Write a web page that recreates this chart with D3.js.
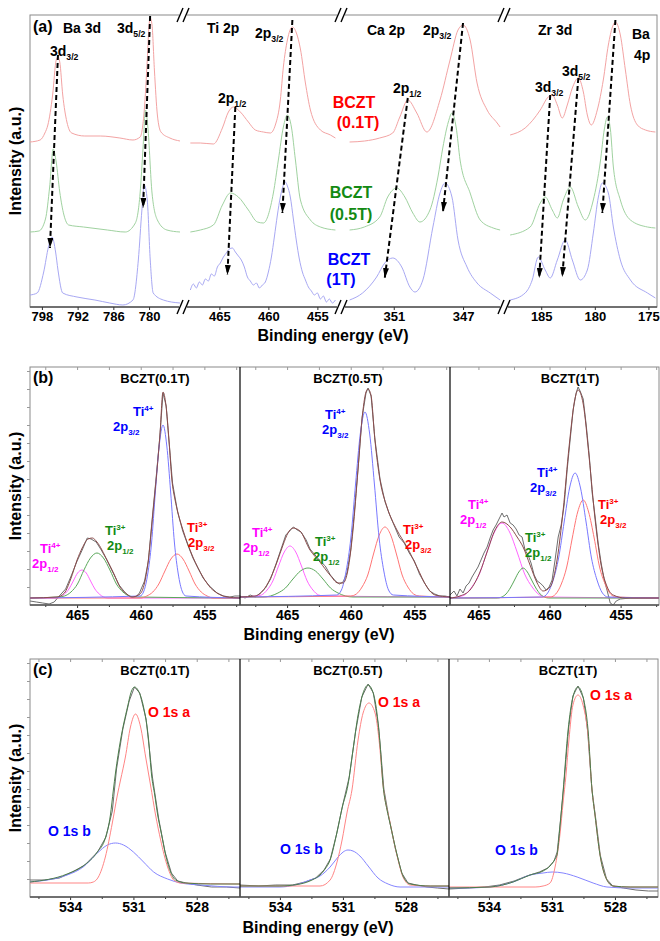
<!DOCTYPE html>
<html>
<head>
<meta charset="utf-8">
<script src="https://d3js.org/d3.v7.min.js"></script>
<style>
  body { margin: 0; background: #fff; }
  svg text { font-family: Arial, "Liberation Sans", Helvetica, sans-serif; font-weight: bold; }
</style>
</head>
<body>
<svg id="chart" width="660" height="941"></svg>
<script>
// ---------------- data : panel (a), survey of core levels (x = binding energy eV, y = a.u.)
const segDomains = [[800, 774.8], [468.2, 453.1], [353.7, 344.75], [188.1, 174.2]];
const segTicks = [[798, 792, 786, 780], [465, 460, 455], [351, 347], [185, 180, 175]];
const sampleNames = ["BCZT", "BCZT", "BCZT"];
const sampleTags = ["(0.1T)", "(0.5T)", "(1T)"];

const spec01 = [
  [[800.0,165],[798.3,167],[797.5,174],[797.0,182],[796.2,212],[795.6,247],[795.3,250],[795.0,245],[794.5,212],[793.8,185],[793.0,174],[790.8,171],[788.2,171],[784.9,169],[782.7,167],[781.5,170],[780.8,197],[780.3,247],[780.0,282],[779.8,289],[779.5,282],[779.1,237],[778.6,192],[778.0,175],[776.5,169],[774.8,166]],
  [[467.96,164],[466.94,164],[465.61,163],[464.69,179],[464.08,195],[463.57,200],[462.86,195],[462.04,185],[461.33,177],[460.51,175],[459.8,174],[459.29,182],[458.78,207],[458.47,240],[458.06,267],[457.55,280],[457.14,274],[456.73,258],[456.22,224],[455.71,197],[454.69,177],[453.67,172],[453.16,169]],
  [[353.55,165],[352.68,166],[351.81,169],[351.06,174],[350.65,190],[350.19,207],[349.67,194],[349.09,175],[348.33,207],[347.75,247],[347.29,277],[347.0,282],[346.59,267],[346.19,224],[345.61,197],[345.03,184],[344.86,180]],
  [[187.9,172],[186.5,179],[185.09,197],[184.35,210],[183.97,212],[183.5,202],[183.04,189],[182.57,202],[182.1,219],[181.54,229],[181.07,215],[180.7,192],[180.33,182],[179.77,197],[179.21,227],[178.74,262],[178.36,280],[178.08,285],[177.62,272],[177.15,237],[176.68,202],[176.03,182],[175.28,177],[174.35,175]]
];
const spec05 = [
  [[800.0,75],[798.5,76],[797.4,88],[796.7,120],[796.1,158],[795.6,145],[795.0,115],[794.3,92],[793.5,82],[791.0,80],[787.0,77],[784.0,75],[782.3,84],[781.5,114],[781.0,160],[780.6,197],[780.2,180],[779.5,114],[778.6,87],[777.0,77],[774.8,75]],
  [[467.96,75],[466.94,77],[465.61,82],[464.69,102],[463.88,114],[463.06,110],[462.04,97],[461.12,85],[460.51,84],[459.49,114],[458.98,147],[458.47,180],[458.06,192],[457.65,180],[457.24,147],[456.73,107],[455.71,87],[454.69,80],[453.16,77]],
  [[353.55,77],[352.7,80],[351.81,90],[351.35,110],[350.83,119],[350.36,110],[349.9,94],[349.49,85],[348.91,97],[348.45,130],[348.16,160],[347.85,185],[347.64,194],[347.4,180],[347.17,147],[346.59,114],[346.01,87],[345.26,79],[344.86,77]],
  [[187.9,72],[186.03,80],[185.09,104],[184.63,110],[183.97,97],[183.5,89],[182.94,107],[182.29,120],[181.54,100],[180.89,87],[180.14,107],[179.49,145],[179.11,178],[178.83,190],[178.55,178],[178.27,140],[177.62,107],[176.68,87],[175.09,80],[174.35,79]]
];
const spec1 = [
  [[800.0,12],[798.8,14],[797.7,35],[796.9,60],[796.3,70],[795.7,55],[795.3,37],[794.5,14],[792.1,10],[789.1,7],[786.6,4],[784.4,2],[782.7,7],[781.8,47],[781.2,97],[780.8,122],[780.3,107],[779.8,47],[779.3,14],[777.6,7],[774.8,4]],
  [[467.96,17],[467.65,23],[467.35,19],[467.04,25],[466.73,22],[466.43,28],[466.12,26],[465.82,33],[465.51,31],[465.2,40],[464.9,44],[464.59,50],[464.29,54],[463.98,58],[463.67,59],[463.37,55],[463.06,51],[462.76,47],[462.45,40],[462.14,30],[461.84,26],[461.53,22],[461.22,24],[460.92,19],[460.61,22],[460.31,25],[460.0,35],[459.69,50],[459.39,70],[459.08,92],[458.78,110],[458.47,122],[458.27,125],[458.06,121],[457.76,110],[457.45,88],[457.14,66],[456.84,48],[456.53,35],[456.22,27],[455.92,20],[455.61,16],[455.31,12],[455.0,14],[454.69,8],[454.39,11],[454.08,5],[453.78,8],[453.47,4],[453.16,7]],
  [[353.55,7],[352.8,14],[351.99,30],[351.52,44],[351.06,49],[350.54,40],[350.07,20],[349.78,15],[349.32,27],[348.74,80],[348.33,114],[348.04,124],[347.64,110],[347.29,67],[346.77,40],[346.19,24],[345.43,14],[344.86,7]],
  [[187.9,7],[186.5,14],[185.84,27],[185.28,50],[184.63,37],[184.16,29],[183.5,47],[182.76,67],[182.1,47],[181.36,27],[180.7,37],[180.14,74],[179.67,110],[179.3,124],[178.74,114],[178.27,80],[177.62,47],[176.68,27],[175.09,14],[174.35,9]]
];
// peak shift arrows: [segment, E from, I from, E to, I to]
const shiftArrows = [
  [0, 795.3, 252, 796.65, 59], [0, 779.82, 291, 781.0, 99],
  [1, 463.37, 200, 464.18, 32], [1, 457.55, 287, 458.57, 94],
  [2, 350.19, 209, 351.52, 29], [2, 347.0, 284, 348.16, 95],
  [3, 184.16, 212, 185.19, 29], [3, 181.54, 229, 183.04, 30], [3, 178.08, 287, 179.3, 94]
];

// ---------------- data : panel (b), Ti 2p fits
const bDomains = [[468.7, 452.2], [468.7, 452.2], [467.0, 452.3]];
const bMajor = [465, 460, 455];
const bMinor = [467.5, 462.5, 457.5, 452.5];
const bTitles = ["BCZT(0.1T)", "BCZT(0.5T)", "BCZT(1T)"];

const b1Raw = [[468.7,4],[468.2,3],[467.7,2],[467.2,1],[466.8,3],[466.4,9],[465.9,16],[465.5,28],[465.0,44],[464.6,55],[464.2,67],[463.9,66],[463.5,63],[463.1,55],[462.7,46],[462.2,33],[461.7,20],[461.2,12],[460.8,8],[460.4,8],[460.1,12],[459.7,24],[459.4,44],[459.1,86],[458.8,126],[458.5,168],[458.25,212],[458.0,199],[457.8,167],[457.5,122],[457.1,93],[456.7,74],[456.3,60],[455.9,47],[455.5,37],[455.1,27],[454.6,19],[454.0,12],[453.5,9],[453.0,8],[452.6,9],[452.2,9]];
const b1Fit = [[468.7,7],[466.58,8],[466.0,12],[465.5,26],[465.0,45],[464.6,57],[464.14,66],[463.8,67],[463.44,63],[462.65,45],[462.1,31],[461.63,18],[461.1,11],[460.69,8],[460.06,11],[459.7,22],[459.43,42],[459.04,92],[458.72,135],[458.49,170],[458.25,213],[458.02,200],[457.78,165],[457.55,125],[457.3,105],[457.07,92],[456.68,75],[455.9,48],[455.11,28],[454.5,17],[454.01,12],[453.2,8],[452.2,7]];
const b1Ti4p32 = [[468.7,7],[460.05,9],[459.75,14],[459.45,31],[459.15,62],[458.85,113],[458.55,159],[458.25,180],[457.95,159],[457.65,113],[457.35,62],[457.05,31],[456.75,14],[456.45,9],[452.2,7]];
const b1Ti3p32 = [[468.7,7],[460.0,7],[459.53,9],[459.05,13],[458.58,21],[458.1,34],[457.63,46],[457.15,51],[456.68,46],[456.2,34],[455.73,21],[455.25,13],[454.78,9],[454.3,7],[452.2,7]];
const b1Ti4p12 = [[468.7,7],[466.66,7],[466.32,8],[465.98,11],[465.64,16],[465.3,24],[464.96,32],[464.62,35],[464.28,32],[463.94,24],[463.6,16],[463.26,11],[462.92,8],[462.58,7],[452.2,7]];
const b1Ti3p12 = [[468.7,7],[466.5,8],[465.99,9],[465.48,13],[464.97,21],[464.46,35],[463.95,47],[463.44,52],[462.93,47],[462.42,35],[461.91,21],[461.4,13],[460.89,9],[460.38,8],[452.2,7]];

const b2Raw = [[468.7,9],[468.3,7],[467.9,10],[467.5,8],[467.1,12],[466.7,17],[466.3,26],[465.9,40],[465.5,55],[465.1,70],[464.8,74],[464.5,78],[464.2,75],[463.9,73],[463.5,65],[463.2,56],[462.8,50],[462.4,44],[462.0,39],[461.6,30],[461.2,24],[460.9,21],[460.6,23],[460.3,32],[460.0,55],[459.7,95],[459.4,140],[459.1,188],[458.8,212],[458.64,217],[458.4,209],[458.1,166],[457.7,126],[457.3,103],[457.0,92],[456.6,80],[456.2,68],[455.8,62],[455.4,52],[455.0,44],[454.6,31],[454.2,22],[453.8,14],[453.4,11],[453.0,9],[452.6,9],[452.2,8]];
const b2Fit = [[468.7,8],[467.52,9],[466.74,17],[466.19,30],[465.79,43],[465.32,60],[464.93,72],[464.54,77],[463.99,74],[463.2,55],[462.42,43],[461.63,30],[461.0,22],[460.61,22],[460.22,35],[459.82,75],[459.43,135],[459.12,185],[458.8,213],[458.64,216],[458.41,210],[458.1,165],[457.7,125],[457.15,98],[456.37,75],[455.58,58],[454.8,38],[454.01,18],[453.38,10],[452.2,8]];
const b2Ti4p32 = [[468.7,8],[461.1,10],[460.73,15],[460.36,34],[459.99,67],[459.62,121],[459.25,171],[458.88,193],[458.51,171],[458.14,121],[457.77,67],[457.4,34],[457.03,15],[456.66,10],[452.2,8]];
const b2Ti3p32 = [[468.7,8],[460.01,9],[459.56,11],[459.11,18],[458.66,30],[458.21,51],[457.76,70],[457.31,78],[456.86,70],[456.41,51],[455.96,30],[455.51,18],[455.06,11],[454.61,9],[452.2,8]];
const b2Ti4p12 = [[468.7,8],[467.47,9],[467.02,10],[466.57,15],[466.12,24],[465.67,39],[465.22,53],[464.77,59],[464.32,53],[463.87,39],[463.42,24],[462.97,15],[462.52,10],[462.07,9],[452.2,8]];
const b2Ti3p12 = [[468.7,8],[466.9,8],[466.31,9],[465.72,12],[465.13,17],[464.54,26],[463.95,34],[463.36,37],[462.77,34],[462.18,26],[461.59,17],[461.0,12],[460.41,9],[459.82,8],[452.2,8]];

const b3Raw = [[467.0,10],[466.72,14],[466.51,9],[466.3,16],[466.08,12],[465.87,19],[465.66,22],[465.45,28],[465.24,33],[465.03,38],[464.82,45],[464.61,52],[464.39,58],[464.18,67],[463.97,75],[463.76,80],[463.55,86],[463.34,92],[463.2,88],[462.99,90],[462.77,82],[462.56,80],[462.35,76],[462.14,70],[461.93,68],[461.72,55],[461.51,50],[461.3,42],[461.08,30],[460.87,24],[460.66,22],[460.45,19],[460.24,15],[460.03,18],[459.82,25],[459.61,45],[459.39,68],[459.18,80],[458.97,100],[458.76,135],[458.55,165],[458.34,195],[458.13,212],[457.99,218],[457.85,214],[457.63,206],[457.42,180],[457.21,150],[457.0,112],[456.79,88],[456.58,62],[456.37,42],[456.15,25],[455.94,14],[455.73,2],[455.52,0],[455.31,4],[455.03,6],[454.32,7],[452.3,7]];
const b3Fit = [[467.0,7],[466.3,9],[465.59,15],[464.89,33],[464.39,53],[463.83,75],[463.34,83],[462.77,78],[462.28,68],[461.86,58],[461.37,40],[460.87,22],[460.45,14],[459.96,18],[459.46,46],[459.04,95],[458.62,159],[458.2,207],[457.99,215],[457.63,201],[457.21,147],[456.79,85],[456.37,40],[455.94,18],[455.52,10],[454.68,7],[452.3,7]];
const b3Ti4p32 = [[467.0,7],[460.51,8],[460.13,12],[459.74,25],[459.36,47],[458.97,83],[458.59,117],[458.2,132],[457.82,117],[457.43,83],[457.05,47],[456.66,25],[456.28,12],[455.89,8],[452.3,7]];
const b3Ti3p32 = [[467.0,7],[459.94,8],[459.56,11],[459.17,21],[458.79,38],[458.4,67],[458.02,93],[457.63,105],[457.25,93],[456.86,67],[456.48,38],[456.09,21],[455.71,11],[455.32,8],[452.3,7]];
const b3Ti4p12 = [[467.0,7],[466.52,8],[465.99,10],[465.46,18],[464.93,31],[464.4,53],[463.87,73],[463.34,82],[462.81,73],[462.28,53],[461.75,31],[461.22,18],[460.69,10],[460.16,8],[452.3,7]];
const b3Ti3p12 = [[467.0,7],[463.66,7],[463.36,8],[463.06,11],[462.76,17],[462.46,25],[462.16,33],[461.86,37],[461.56,33],[461.26,25],[460.96,17],[460.66,11],[460.36,8],[460.06,7],[452.3,7]];

// ---------------- data : panel (c), O 1s fits
const cDomain = [535.9, 525.95];
const cMajor = [534, 531, 528];
const cMinor = [535.5, 532.5, 529.5, 526.5];

const c1Raw = [[535.9,17],[535.2,17],[534.5,19],[533.9,25],[533.3,32],[532.7,45],[532.3,60],[532.0,86],[531.8,128],[531.5,168],[531.2,196],[530.95,210],[530.7,204],[530.4,178],[530.1,120],[529.8,78],[529.5,45],[529.2,24],[528.9,16],[528.5,14],[528.0,12],[527.3,10],[526.6,10],[525.95,9]];
const c1Fit = [[535.9,15],[534.14,23],[533.38,31],[532.71,45],[532.33,59],[532.09,82],[531.95,107],[531.85,124],[531.61,157],[531.28,190],[531.09,206],[530.95,210],[530.76,206],[530.52,190],[530.28,157],[530.14,122],[529.99,102],[529.85,82],[529.71,67],[529.38,34],[529.0,17],[528.52,14],[527.33,13],[525.95,13]];
const c1A = [[535.9,14],[533.14,14],[532.9,15],[532.66,20],[532.33,40],[532.0,74],[531.76,102],[531.61,117],[531.38,140],[531.14,170],[530.9,183],[530.66,170],[530.42,140],[530.19,112],[529.95,82],[529.71,57],[529.38,30],[529.09,17],[528.76,14],[525.95,13]];
const c1B = [[535.9,15],[534.14,22],[533.38,30],[532.71,44],[532.23,52],[531.85,54],[531.47,52],[531.0,45],[530.52,35],[530.04,25],[529.38,18],[528.76,14],[527.81,12],[526.23,10],[525.95,10]];

const c2Raw = [[535.9,12],[535.0,11],[534.2,12],[533.4,12],[532.8,15],[532.3,19],[531.9,27],[531.6,38],[531.3,63],[531.0,93],[530.7,120],[530.4,165],[530.1,200],[529.8,213],[529.55,204],[529.3,170],[529.05,108],[528.8,78],[528.5,48],[528.2,24],[527.9,14],[527.5,12],[527.0,10],[526.5,9],[525.95,8]];
const c2Fit = [[535.9,11],[534.0,11],[533.04,13],[532.47,17],[532.09,22],[531.85,28],[531.61,37],[531.28,65],[531.04,89],[530.76,112],[530.52,147],[530.28,182],[530.04,204],[529.8,212],[529.61,207],[529.38,184],[529.23,152],[529.09,112],[528.9,87],[528.76,74],[528.42,42],[528.14,21],[527.8,13],[526.85,11],[525.95,11]];
const c2A = [[535.9,11],[532.09,11],[531.61,17],[531.28,35],[531.04,57],[530.8,85],[530.57,107],[530.28,157],[530.04,184],[529.76,194],[529.47,184],[529.28,157],[529.09,112],[528.76,75],[528.42,41],[528.14,20],[527.8,12],[526.85,11],[525.95,11]];
const c2B = [[535.9,10],[534.0,10],[533.28,12],[532.57,17],[532.09,21],[531.61,30],[531.23,40],[530.99,45],[530.76,47],[530.52,46],[530.19,41],[529.8,31],[529.33,19],[528.85,13],[528.28,10],[525.95,10]];

const c3Raw = [[535.9,8],[535.0,9],[534.2,10],[533.5,12],[532.8,16],[532.2,21],[531.6,25],[531.2,29],[530.9,36],[530.75,45],[530.6,75],[530.45,108],[530.2,170],[530.0,201],[529.76,211],[529.5,199],[529.3,166],[529.1,108],[528.9,76],[528.7,42],[528.4,18],[528.1,11],[527.6,9],[527.0,7],[526.4,6],[525.95,6]];
const c3Fit = [[535.9,9],[533.95,10],[532.85,15],[532.04,22],[531.42,26],[531.09,31],[530.85,38],[530.76,42],[530.61,72],[530.47,105],[530.23,167],[530.0,200],[529.76,210],[529.52,200],[529.28,167],[529.09,107],[528.95,82],[528.71,42],[528.38,17],[528.09,11],[527.28,10],[525.95,10]];
const c3A = [[535.9,10],[531.8,10],[531.42,11],[531.09,14],[530.85,30],[530.61,64],[530.47,94],[530.33,122],[530.19,157],[530.0,192],[529.76,202],[529.52,192],[529.28,162],[529.09,107],[528.95,82],[528.71,42],[528.38,17],[528.09,11],[527.28,10],[525.95,10]];
const c3B = [[535.9,9],[535.23,9],[533.95,10],[532.85,15],[532.04,22],[531.42,24],[530.99,25],[530.47,24],[529.8,20],[529.04,14],[528.38,10],[527.28,9],[525.95,9]];

// ---------------- drawing
const svg = d3.select("#chart");
const defs = svg.append("defs");

defs.append("marker")
    .attr("id", "head")
    .attr("viewBox", "0 0 10 6")
    .attr("refX", 10).attr("refY", 3)
    .attr("markerWidth", 10).attr("markerHeight", 6)
    .attr("markerUnits", "userSpaceOnUse")
    .attr("orient", "auto")
  .append("path")
    .attr("d", "M0,0L10,3L0,6Z")
    .attr("fill", "#000");

// text with sub / superscripts; parts = [[text, "sub"|"sup"|undefined], ...]
function rich(x, y, parts, color, size, anchor) {
    let t = svg.append("text")
        .attr("x", x).attr("y", y)
        .attr("fill", color)
        .attr("text-anchor", anchor || "start")
        .style("font-size", size + "px");
    let cur = 0;
    parts.forEach(p => {
        let off = p[1] === "sub" ? size * 0.32 : p[1] === "sup" ? -size * 0.42 : 0;
        t.append("tspan")
            .attr("dy", off - cur)
            .style("font-size", p[1] ? (size * 0.62) + "px" : null)
            .text(p[0]);
        cur = off;
    });
    return t;
}

function yLabel(cy) {
    svg.append("text")
        .attr("transform", `translate(21, ${cy}) rotate(-90)`)
        .attr("text-anchor", "middle")
        .style("font-size", "16px")
        .text("Intensity (a.u.)");
}

function xLabel(cx, y) {
    svg.append("text")
        .attr("x", cx).attr("y", y)
        .attr("text-anchor", "middle")
        .style("font-size", "16px")
        .text("Binding energy (eV)");
}

function bottomTicks(scale, y, major, minor, fs) {
    let dom = scale.domain();
    let lo = Math.min(dom[0], dom[1]), hi = Math.max(dom[0], dom[1]);
    let g = svg.append("g").attr("transform", `translate(0,${y})`).attr("color", "#333");
    g.call(d3.axisBottom(scale).tickValues(major).tickSize(3).tickSizeOuter(0).tickPadding(2).tickFormat(d3.format("d")))
        .call(a => a.select(".domain").remove());
    g.selectAll("text").style("font-size", fs + "px").attr("fill", "#000");
    if (minor) {
        svg.append("g").attr("transform", `translate(0,${y})`).attr("color", "#333")
            .call(d3.axisBottom(scale).tickValues(minor.filter(v => v > lo && v < hi)).tickSize(2).tickSizeOuter(0).tickFormat(""))
            .call(a => a.select(".domain").remove());
    }
}

function topTicks(scale, y, vals) {
    let dom = scale.domain();
    let lo = Math.min(dom[0], dom[1]), hi = Math.max(dom[0], dom[1]);
    svg.append("g").attr("transform", `translate(0,${y})`).attr("color", "#999")
        .call(d3.axisTop(scale).tickValues(vals.filter(v => v > lo && v < hi)).tickSize(-3).tickSizeOuter(0).tickFormat(""))
        .call(a => a.select(".domain").remove());
}

// ===== panel (a)
const aRanges = [[30, 180], [188, 336], [347, 502], [508, 657]];
const aBreaks = [184, 342, 505];
const xa = segDomains.map((d, i) => d3.scaleLinear().domain(d).range(aRanges[i]));
const ya = d3.scaleLinear().domain([0, 292]).range([307, 15]);

svg.append("rect")
    .attr("x", 30).attr("y", 15).attr("width", 627).attr("height", 292)
    .attr("fill", "none").attr("stroke", "#8a8a8a");
svg.append("line")
    .attr("x1", 30).attr("x2", 657).attr("y1", 307).attr("y2", 307)
    .attr("stroke", "#555").attr("stroke-width", 1.3);

[[spec01, "#f3a3a3"], [spec05, "#a0d2a0"], [spec1, "#a8a8f3"]].forEach(([spec, col]) => {
    spec.forEach((pts, i) => {
        let line = d3.line().x(d => xa[i](d[0])).y(d => ya(d[1])).curve(d3.curveMonotoneX);
        svg.append("path").datum(pts)
            .attr("fill", "none").attr("stroke", col).attr("stroke-width", 1)
            .attr("d", line);
    });
});

shiftArrows.forEach(a => {
    let s = xa[a[0]];
    svg.append("line")
        .attr("x1", s(a[1])).attr("y1", ya(a[2]))
        .attr("x2", s(a[3])).attr("y2", ya(a[4]))
        .attr("stroke", "#000").attr("stroke-width", 2)
        .attr("stroke-dasharray", "5,3")
        .attr("marker-end", "url(#head)");
});

// axis breaks "//"
aBreaks.forEach(bx => {
    [15, 307].forEach(by => {
        svg.append("rect").attr("x", bx - 5).attr("y", by - 2).attr("width", 8).attr("height", 4).attr("fill", "#fff");
        [-7, -1].forEach(o => {
            svg.append("line")
                .attr("x1", bx + o).attr("y1", by + 7)
                .attr("x2", bx + o + 6).attr("y2", by - 7)
                .attr("stroke", "#000").attr("stroke-width", 1.4);
        });
    });
});

segTicks.forEach((tv, i) => bottomTicks(xa[i], 307, tv, null, 13));

rich(33, 32, [["(a)"]], "#000", 16);
rich(63, 33, [["Ba 3d"]], "#000", 14);
rich(117, 33, [["3d"], ["5/2", "sub"]], "#000", 14);
rich(50, 56, [["3d"], ["3/2", "sub"]], "#000", 14);
rich(207, 33, [["Ti 2p"]], "#000", 14);
rich(255, 38, [["2p"], ["3/2", "sub"]], "#000", 14);
rich(218, 103, [["2p"], ["1/2", "sub"]], "#000", 14);
rich(367, 35, [["Ca 2p"]], "#000", 14);
rich(423, 35, [["2p"], ["3/2", "sub"]], "#000", 14);
rich(393, 93, [["2p"], ["1/2", "sub"]], "#000", 14);
rich(538, 35, [["Zr 3d"]], "#000", 14);
rich(562, 76, [["3d"], ["5/2", "sub"]], "#000", 14);
rich(535, 92, [["3d"], ["3/2", "sub"]], "#000", 14);
rich(632, 39, [["Ba"]], "#000", 14);
rich(634, 60, [["4p"]], "#000", 14);

const sampleColors = ["#ff0000", "#138a13", "#0000ff"];
const sampleLabelPos = [[354, 108, 358, 128], [351, 198, 351, 220], [349, 265, 341, 285]];
sampleLabelPos.forEach((p, i) => {
    rich(p[0], p[1], [[sampleNames[i]]], sampleColors[i], 16, "middle");
    rich(p[2], p[3], [[sampleTags[i]]], sampleColors[i], 16, "middle");
});

yLabel(161);
xLabel(333, 341);

// ===== panels (b) and (c) : three fitted sub-panels each
function fitPanel(top, bottom, ranges, domains, major, minor, series, id) {
    let yb = d3.scaleLinear().domain([0, bottom - top]).range([bottom, top]);
    let right = ranges[2][1];
    svg.append("rect")
        .attr("x", 30).attr("y", top).attr("width", right - 30).attr("height", bottom - top)
        .attr("fill", "none").attr("stroke", "#8a8a8a");
    svg.append("g").attr("transform", "translate(30,0)").attr("color", "#999")
        .call(d3.axisLeft(yb).tickValues(d3.range(18, bottom - top, 18)).tickSize(3).tickFormat(""))
        .call(a => a.select(".domain").remove());
    ranges.forEach((r, i) => {
        let xs = d3.scaleLinear().domain(domains[i]).range(r);
        defs.append("clipPath").attr("id", id + i)
            .append("rect").attr("x", r[0]).attr("y", top).attr("width", r[1] - r[0]).attr("height", bottom - top);
        let g = svg.append("g").attr("clip-path", `url(#${id + i})`);
        series[i].forEach(s => {
            let line = d3.line().x(d => xs(d[0])).y(d => yb(d[1]))
                .curve(s.raw ? d3.curveLinear : d3.curveMonotoneX);
            g.append("path").datum(s.pts)
                .attr("fill", "none").attr("stroke", s.color).attr("stroke-width", 1)
                .attr("d", line);
        });
        bottomTicks(xs, bottom, major, minor, 14);
        topTicks(xs, top, major.concat(minor));
        if (i > 0) {
            svg.append("line").attr("x1", r[0]).attr("x2", r[0]).attr("y1", top).attr("y2", bottom)
                .attr("stroke", "#000").attr("stroke-width", 1.2);
        }
    });
    svg.append("line").attr("x1", 30).attr("x2", right).attr("y1", bottom).attr("y2", bottom)
        .attr("stroke", "#555").attr("stroke-width", 1.3);
}

const rawCol = "#6e6e6e";
fitPanel(367, 605, [[30, 240], [240, 450], [450, 659]], bDomains, bMajor, bMinor, [
    [{pts: b1Raw, color: rawCol, raw: true}, {pts: b1Ti4p12, color: "#ff66ff"}, {pts: b1Ti3p12, color: "#5aa85a"},
     {pts: b1Ti3p32, color: "#ff7575"}, {pts: b1Ti4p32, color: "#7878ff"}, {pts: b1Fit, color: "#8b4b4b"}],
    [{pts: b2Raw, color: rawCol, raw: true}, {pts: b2Ti4p12, color: "#ff66ff"}, {pts: b2Ti3p12, color: "#5aa85a"},
     {pts: b2Ti3p32, color: "#ff7575"}, {pts: b2Ti4p32, color: "#7878ff"}, {pts: b2Fit, color: "#8b4b4b"}],
    [{pts: b3Raw, color: rawCol, raw: true}, {pts: b3Ti4p12, color: "#ff66ff"}, {pts: b3Ti3p12, color: "#5aa85a"},
     {pts: b3Ti3p32, color: "#ff7575"}, {pts: b3Ti4p32, color: "#7878ff"}, {pts: b3Fit, color: "#8b4b4b"}]
], "clipB");

fitPanel(659, 897, [[30, 240], [240, 449], [449, 658]], [cDomain, cDomain, cDomain], cMajor, cMinor, [
    [{pts: c1Raw, color: rawCol, raw: true}, {pts: c1B, color: "#8585ff"}, {pts: c1A, color: "#ff8585"}, {pts: c1Fit, color: "#4b7d4b"}],
    [{pts: c2Raw, color: rawCol, raw: true}, {pts: c2B, color: "#8585ff"}, {pts: c2A, color: "#ff8585"}, {pts: c2Fit, color: "#4b7d4b"}],
    [{pts: c3Raw, color: rawCol, raw: true}, {pts: c3B, color: "#8585ff"}, {pts: c3A, color: "#ff8585"}, {pts: c3Fit, color: "#4b7d4b"}]
], "clipC");

// panel (b) annotations
rich(33, 383, [["(b)"]], "#000", 16);
[155, 348, 570].forEach((cx, i) => rich(cx, 383, [[bTitles[i]]], "#000", 13, "middle"));
const BLUE = "#0000ff", MAG = "#ff00ff", GRN = "#138a13", RED = "#ff0000";
// [x1, y1, ion charge, x2, level, colour]; the second line sits 15 px lower
const bNotes = [
    [133, 416, "4+", 113, "3/2", BLUE],
    [40, 553, "4+", 32, "1/2", MAG],
    [105, 535, "3+", 107, "1/2", GRN],
    [187, 532, "3+", 188, "3/2", RED],
    [325, 419, "4+", 322, "3/2", BLUE],
    [252, 537, "4+", 243, "1/2", MAG],
    [315, 546, "3+", 313, "1/2", GRN],
    [403, 534, "3+", 405, "3/2", RED],
    [537, 477, "4+", 530, "3/2", BLUE],
    [468, 509, "4+", 460, "1/2", MAG],
    [525, 542, "3+", 525, "1/2", GRN],
    [598, 509, "3+", 600, "3/2", RED]
];
bNotes.forEach(n => {
    rich(n[0], n[1], [["Ti"], [n[2], "sup"]], n[5], 13);
    rich(n[3], n[1] + 15, [["2p"], [n[4], "sub"]], n[5], 13);
});
yLabel(486);
xLabel(319, 640);

// panel (c) annotations
rich(33, 675, [["(c)"]], "#000", 16);
[155, 348, 568].forEach((cx, i) => rich(cx, 675, [[bTitles[i]]], "#000", 13, "middle"));
[[148, 717], [378, 707], [590, 700]].forEach(p => rich(p[0], p[1], [["O 1s a"]], RED, 14));
[[48, 836], [280, 854], [495, 855]].forEach(p => rich(p[0], p[1], [["O 1s b"]], BLUE, 14));
yLabel(778);
xLabel(318, 933);
</script>
</body>
</html>
